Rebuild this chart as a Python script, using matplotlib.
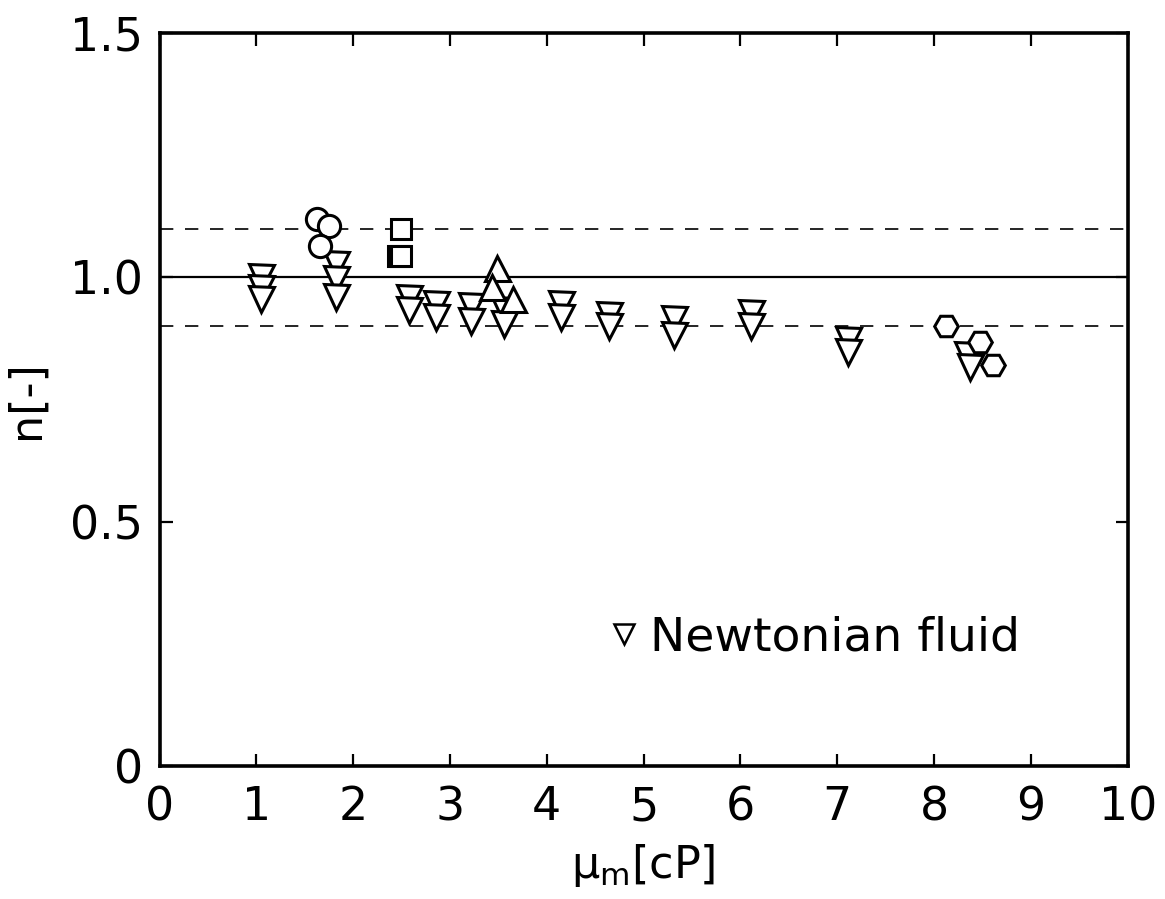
#!/usr/bin/env python3
"""Flow index n versus medium viscosity, Newtonian fluid runs."""

import matplotlib
matplotlib.use("Agg")
import matplotlib.pyplot as plt
from matplotlib.lines import Line2D

# data
newton_x = [1.05, 1.05, 1.05, 1.82, 1.82, 1.82, 2.58, 2.58, 2.86, 2.86,
            3.22, 3.22, 3.56, 3.56, 4.15, 4.15, 4.64, 4.64, 5.31, 5.31,
            6.11, 6.11, 7.11, 7.11, 8.34, 8.37]
newton_n = [1.00, 0.978, 0.955, 1.027, 0.996, 0.961, 0.959, 0.934, 0.945, 0.920,
            0.941, 0.910, 0.934, 0.904, 0.945, 0.920, 0.924, 0.900, 0.914, 0.883,
            0.928, 0.900, 0.873, 0.848, 0.842, 0.816]

circle_x = [1.63, 1.75, 1.66]
circle_n = [1.119, 1.105, 1.064]

square_x = [2.49, 2.46, 2.49]
square_n = [1.100, 1.045, 1.045]

tri_up_x = [3.49, 3.43, 3.65]
tri_up_n = [1.020, 0.980, 0.955]

hex_x = [8.12, 8.47, 8.61]
hex_n = [0.900, 0.867, 0.820]

ref_lines = [1.1, 1.0, 0.9]
ref_styles = ["--", "-", "--"]

x_ticks = list(range(0, 11))
y_ticks = [0, 0.5, 1.0, 1.5]
y_tick_labels = ["0", "0.5", "1.0", "1.5"]

plt.rcParams["font.family"] = ["DejaVu Sans"]

fig = plt.figure(figsize=(11.65, 8.99), dpi=100)
ax = fig.add_axes([0.137, 0.148, 0.831, 0.815])

for yv, ls in zip(ref_lines, ref_styles):
    ax.axhline(yv, color="black", linestyle=ls,
               linewidth=1.6 if ls == "-" else 1.2,
               dashes=(8, 7) if ls == "--" else (None, None), zorder=1)

mk = dict(linestyle="none", markerfacecolor="white", markeredgecolor="black",
          markeredgewidth=2.2, zorder=3)
ax.plot(newton_x, newton_n, marker="v", markersize=18, **mk)
ax.plot(circle_x, circle_n, marker="o", markersize=16, **mk)
ax.plot(square_x, square_n, marker="s", markersize=15, **mk)
ax.plot(tri_up_x, tri_up_n, marker="^", markersize=18, **mk)
ax.plot(hex_x, hex_n, marker="H", markersize=17, **mk)

ax.set_xlim(0, 10)
ax.set_ylim(0, 1.5)
ax.set_xticks(x_ticks)
ax.set_yticks(y_ticks, y_tick_labels)

for s in ax.spines.values():
    s.set_linewidth(2.6)
ax.tick_params(direction="in", length=9, width=1.6, labelsize=33,
               top=True, right=True)
ax.tick_params(axis="x", pad=14)
ax.tick_params(axis="y", pad=12)

ax.set_xlabel("μ$_\\mathrm{m}$[cP]", fontsize=32, labelpad=8)
ax.set_ylabel("n[-]", fontsize=32, labelpad=16)

handle = Line2D([], [], linestyle="none", marker="v", markersize=14,
                markerfacecolor="white", markeredgecolor="black",
                markeredgewidth=1.8)
ax.legend([handle], ["Newtonian fluid"], loc="center left",
          bbox_to_anchor=(0.46, 0.175), frameon=False, fontsize=34,
          handletextpad=0.15, handlelength=0.8, borderpad=0.0,
          borderaxespad=0.0)

fig.savefig("out.png", dpi=100)
